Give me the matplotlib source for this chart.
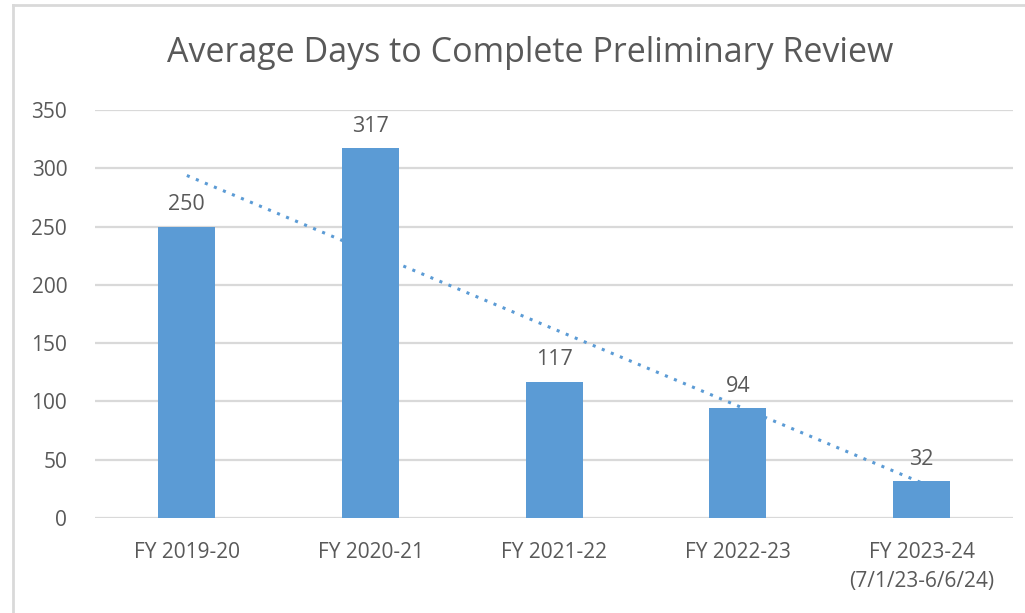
import numpy as np
import matplotlib.pyplot as plt
from matplotlib.lines import Line2D

# Dados
anos = ['FY 2019-20', 'FY 2020-21', 'FY 2021-22', 'FY 2022-23', 'FY 2023-24\n(7/1/23-6/6/24)']
dias = [250, 317, 117, 94, 32]

azul = '#5B9BD5'
cinza = '#595959'

plt.rcParams['font.family'] = ['Open Sans', 'DejaVu Sans']

fig = plt.figure(figsize=(10.25, 6.13), dpi=100)
ax = fig.add_axes([0.0927, 0.155, 0.896, 0.6656])

x = np.arange(len(anos))
ax.bar(x, dias, width=0.31, color=azul, zorder=3)

# linha de tendência linear (pontilhada)
coef = np.polyfit(x + 1, dias, 1)
ax.plot(x, np.polyval(coef, x + 1), linestyle=(0, (1, 2.2)), color=azul,
        linewidth=2.2, zorder=2)

for xi, v in zip(x, dias):
    ax.annotate(str(v), (xi, v), xytext=(0, 8), textcoords='offset points',
                ha='center', va='bottom', fontsize=15.5, color=cinza)

ax.set_xlim(-0.5, len(anos) - 0.5)
ax.set_ylim(0, 350)
ax.set_yticks(range(0, 351, 50))
ax.set_xticks(x)
ax.set_xticklabels(anos, fontsize=15, color=cinza, linespacing=1.5)
ax.tick_params(axis='y', labelsize=15, labelcolor=cinza, length=0, pad=20)
ax.tick_params(axis='x', length=0, pad=17)
ax.grid(axis='y', color='#D9D9D9', linewidth=1.6, zorder=0)
ax.set_axisbelow(True)
for s in ax.spines.values():
    s.set_visible(False)

fig.text(0.517, 0.913, 'Average Days to Complete Preliminary Review',
         ha='center', va='center', fontsize=24.5, color=cinza)

# moldura do gráfico (só topo e lado esquerdo visíveis)
fig.add_artist(Line2D([13 / 1025, 1], [1 - 5 / 613, 1 - 5 / 613],
                      color='#D9D9D9', linewidth=2))
fig.add_artist(Line2D([13 / 1025, 13 / 1025], [0, 1 - 5 / 613],
                      color='#D9D9D9', linewidth=2))

plt.savefig('out.png', dpi=100)
